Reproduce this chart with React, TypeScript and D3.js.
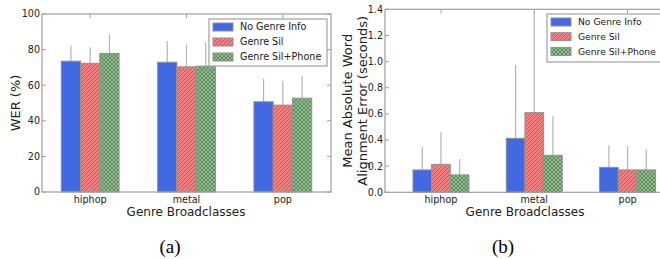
import React from "react";
import * as d3 from "d3";

const genres = ["hiphop", "metal", "pop"];
const seriesNames = ["No Genre Info", "Genre Sil", "Genre Sil+Phone"];

// WER (%) per series, per genre
const werValues = [
  [73.5, 72.9, 50.7],
  [72.3, 70.3, 48.8],
  [77.8, 70.7, 52.7],
];
const werErr = [
  [8.5, 12.0, 12.9],
  [9.0, 12.5, 13.6],
  [10.8, 13.4, 12.5],
];
const werTicks = [0, 20, 40, 60, 80, 100];

// alignment error (s) per series, per genre
const alignValues = [
  [0.171, 0.413, 0.191],
  [0.214, 0.609, 0.171],
  [0.133, 0.283, 0.171],
];
const alignErr = [
  [0.176, 0.561, 0.169],
  [0.248, 0.771, 0.183],
  [0.122, 0.301, 0.16],
];
const alignTicks = [0, 0.2, 0.4, 0.6, 0.8, 1.0, 1.2, 1.4];

const fills = ["#4169e1", "#f08080", "#8fbc8f"];
const hatches = ["", "url(#hatchRed)", "url(#hatchGreen)"];
const font = "DejaVu Sans, sans-serif";
const frame = "#a0a0a0";

type PanelProps = {
  left: number;
  right: number;
  top: number;
  bottom: number;
  xDomain: [number, number];
  yMax: number;
  ticks: number[];
  fmt: (v: number) => string;
  values: number[][];
  errs: number[][];
  ylabel: string[];
  ylabelX: number;
  xlabelX: number;
  legend: { x: number; y: number; w: number; h: number; step: number; fs: number };
  clipId: string;
};

const Panel = (p: PanelProps) => {
  const x = d3.scaleLinear().domain(p.xDomain).range([p.left, p.right]);
  const y = d3.scaleLinear().domain([0, p.yMax]).range([p.bottom, p.top]);
  const bw = x(0.2) - x(0);
  const width = Math.min(p.right, 660) - p.left;
  return (
    <g fontFamily={font}>
      <clipPath id={p.clipId}>
        <rect x={p.left} y={p.top - 1} width={width + 2} height={p.bottom - p.top + 2} />
      </clipPath>
      <g clipPath={`url(#${p.clipId})`}>
        {/* error bars behind the bars */}
        {p.values.map((row, s) =>
          row.map((v, g) => {
            const cx = x(g + (s - 1) * 0.2);
            return (
              <line
                key={`e${s}${g}`}
                x1={cx}
                x2={cx}
                y1={y(Math.max(0, v - p.errs[s][g]))}
                y2={y(v + p.errs[s][g])}
                stroke="#b4b4b4"
                strokeWidth={1.2}
              />
            );
          })
        )}
        {p.values.map((row, s) =>
          row.map((v, g) => {
            const bx = x(g + (s - 1) * 0.2 - 0.1);
            return (
              <g key={`b${s}${g}`}>
                <rect x={bx} y={y(v)} width={bw} height={y(0) - y(v)} fill={fills[s]} />
                {hatches[s] && (
                  <rect x={bx} y={y(v)} width={bw} height={y(0) - y(v)} fill={hatches[s]} />
                )}
                <rect
                  x={bx}
                  y={y(v)}
                  width={bw}
                  height={y(0) - y(v)}
                  fill="none"
                  stroke="#909090"
                  strokeWidth={1}
                />
              </g>
            );
          })
        )}
      </g>
      {/* frame */}
      <rect
        x={p.left}
        y={p.top}
        width={p.right - p.left}
        height={p.bottom - p.top}
        fill="none"
        stroke={frame}
        strokeWidth={1.2}
      />
      {/* y ticks */}
      {p.ticks.map((t) => (
        <g key={`t${t}`}>
          <line x1={p.left} x2={p.left + 4} y1={y(t)} y2={y(t)} stroke={frame} />
          <line x1={p.right} x2={p.right - 4} y1={y(t)} y2={y(t)} stroke={frame} />
          <text x={p.left - 2} y={y(t)} dy="0.35em" textAnchor="end" fontSize={9.6} fill="#222">
            {p.fmt(t)}
          </text>
        </g>
      ))}
      {/* x ticks */}
      {genres.map((g, i) => (
        <g key={g}>
          <line x1={x(i)} x2={x(i)} y1={p.bottom} y2={p.bottom - 4} stroke={frame} />
          <line x1={x(i)} x2={x(i)} y1={p.top} y2={p.top + 4} stroke={frame} />
          <text x={x(i)} y={p.bottom + 10.5} textAnchor="middle" fontSize={9.6} fill="#222">
            {g}
          </text>
        </g>
      ))}
      <text x={p.xlabelX} y={p.bottom + 24} textAnchor="middle" fontSize={12} fill="#222">
        Genre Broadclasses
      </text>
      {p.ylabel.map((l, i) => (
        <text
          key={l}
          transform={`translate(${p.ylabelX + i * 15},${(p.top + p.bottom) / 2}) rotate(-90)`}
          textAnchor="middle"
          fontSize={13}
          fill="#222"
        >
          {l}
        </text>
      ))}
      {/* legend */}
      <g>
        <rect
          x={p.legend.x}
          y={p.legend.y}
          width={p.legend.w}
          height={p.legend.h}
          fill="white"
          stroke={frame}
          strokeWidth={1.2}
        />
        {seriesNames.map((n, s) => {
          const cy = p.legend.y + 8 + s * p.legend.step;
          return (
            <g key={n}>
              <rect x={p.legend.x + 4} y={cy - 4} width={20} height={8} fill={fills[s]} />
              {hatches[s] && (
                <rect x={p.legend.x + 4} y={cy - 4} width={20} height={8} fill={hatches[s]} />
              )}
              <rect
                x={p.legend.x + 4}
                y={cy - 4}
                width={20}
                height={8}
                fill="none"
                stroke="#909090"
              />
              <text x={p.legend.x + 31} y={cy} dy="0.35em" fontSize={p.legend.fs} fill="#222">
                {n}
              </text>
            </g>
          );
        })}
      </g>
    </g>
  );
};

const App = () => {
  return (
    <svg
      width={660}
      height={259}
      style={{ position: "absolute", left: 0, top: 0, background: "white" }}
    >
      <defs>
        <pattern id="hatchRed" patternUnits="userSpaceOnUse" width={4} height={4}>
          <path d="M-1,1 l2,-2 M0,4 l4,-4 M3,5 l2,-2" stroke="#b85050" strokeWidth={0.8} />
        </pattern>
        <pattern id="hatchGreen" patternUnits="userSpaceOnUse" width={4} height={4}>
          <path
            d="M-1,1 l2,-2 M0,4 l4,-4 M3,5 l2,-2 M-1,3 l2,2 M0,0 l4,4 M3,-1 l2,2"
            stroke="#4f7a4f"
            strokeWidth={0.7}
          />
        </pattern>
      </defs>
      <Panel
        left={42}
        right={331}
        top={14}
        bottom={192}
        xDomain={[-0.5, 2.5]}
        yMax={100}
        ticks={werTicks}
        fmt={(v) => String(v)}
        values={werValues}
        errs={werErr}
        ylabel={["WER (%)"]}
        ylabelX={20}
        xlabelX={186}
        legend={{ x: 209, y: 19, w: 118, h: 47, step: 15, fs: 9.6 }}
        clipId="c1"
      />
      <Panel
        left={385}
        right={385 + 3.2 * 93.3}
        top={9.3}
        bottom={192.3}
        xDomain={[-0.6, 2.6]}
        yMax={1.4}
        ticks={alignTicks}
        fmt={(v) => v.toFixed(1)}
        values={alignValues}
        errs={alignErr}
        ylabel={["Mean Absolute Word", "Alignment Error (seconds)"]}
        ylabelX={352}
        xlabelX={525}
        legend={{ x: 547, y: 14, w: 120, h: 48, step: 14.7, fs: 9.2 }}
        clipId="c2"
      />
      <text x={170} y={253} textAnchor="middle" fontFamily="Liberation Serif, serif" fontSize={19}>
        (a)
      </text>
      <text x={503} y={253} textAnchor="middle" fontFamily="Liberation Serif, serif" fontSize={19}>
        (b)
      </text>
    </svg>
  );
};

export default App;
